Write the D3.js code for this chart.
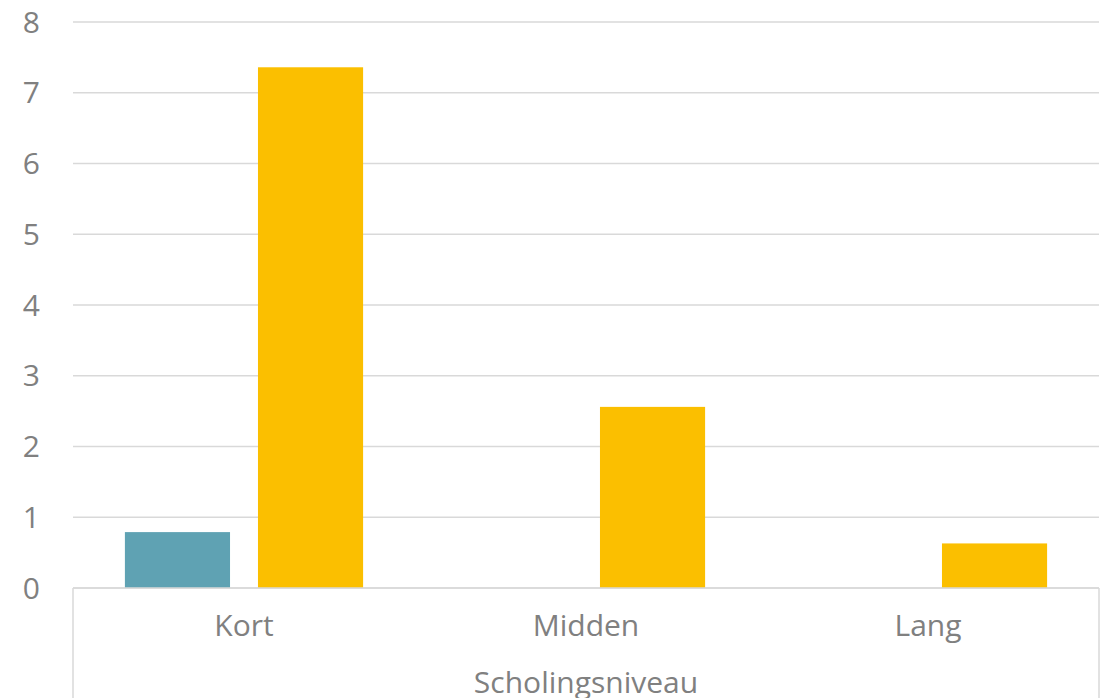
<!DOCTYPE html>
<html>
<head>
<meta charset="utf-8">
<script src="https://cdnjs.cloudflare.com/ajax/libs/d3/7.8.5/d3.min.js"></script>
<style>
body { margin: 0; background: #fff; }
text { font-family: "Open Sans", "Noto Sans", sans-serif; fill: #808080; }
</style>
</head>
<body>
<svg id="chart"></svg>
<script>
'use strict'

// data
const categories = ['Kort', 'Midden', 'Lang']
const series = ['reeks1', 'reeks2']
const reeks1 = [0.79, 0, 0]
const reeks2 = [7.36, 2.56, 0.63]
const yTicks = [0, 1, 2, 3, 4, 5, 6, 7, 8]
const axisTitle = 'Scholingsniveau'

const width = 1107, height = 698
const margins = {top: 22, right: 8, bottom: 110, left: 73}
const chartWidth = width - margins.left - margins.right
const chartHeight = height - margins.top - margins.bottom
const colors = {reeks1: '#5fa2b3', reeks2: '#fbbf00'}

const svg = d3.select('#chart')
	.attr('width', width)
	.attr('height', height)
const g = svg.append('g')
	.attr('transform', 'translate(' + margins.left + ',' + margins.top + ')')

const x0 = d3.scaleBand().domain(categories).range([0, chartWidth])
const x1 = d3.scaleBand().domain(series).range([0, x0.bandwidth()])
	.paddingInner(0.21).paddingOuter(0.39)
const y = d3.scaleLinear().domain([0, 8]).range([chartHeight, 0])

// gridlines
g.append('g').selectAll('line')
	.data(yTicks)
	.enter().append('line')
	.attr('x1', 0).attr('x2', chartWidth)
	.attr('y1', d => y(d)).attr('y2', d => y(d))
	.attr('stroke', '#d9d9d9').attr('stroke-width', 1.5)

// y labels
g.append('g').selectAll('text')
	.data(yTicks)
	.enter().append('text')
	.attr('x', -33).attr('y', d => y(d))
	.attr('dy', '0.35em')
	.attr('text-anchor', 'end')
	.style('font-size', '30px')
	.text(d => d)

// bars
const rows = categories.map((c, i) => ({cat: c, values: [
	{key: 'reeks1', v: reeks1[i]}, {key: 'reeks2', v: reeks2[i]}]}))
const groups = g.append('g').selectAll('g')
	.data(rows)
	.enter().append('g')
	.attr('transform', d => 'translate(' + x0(d.cat) + ',0)')
groups.selectAll('rect')
	.data(d => d.values.filter(e => e.v > 0))
	.enter().append('rect')
	.attr('x', d => x1(d.key))
	.attr('width', x1.bandwidth())
	.attr('y', d => y(d.v))
	.attr('height', d => chartHeight - y(d.v))
	.attr('fill', d => colors[d.key])

// category axis with outer frame lines
const xAxis = g.append('g').attr('transform', 'translate(0,' + chartHeight + ')')
xAxis.append('line')
	.attr('x1', 0).attr('x2', chartWidth)
	.attr('stroke', '#d9d9d9').attr('stroke-width', 1.5)
xAxis.selectAll('.edge')
	.data([0, chartWidth])
	.enter().append('line')
	.attr('class', 'edge')
	.attr('x1', d => d).attr('x2', d => d)
	.attr('y1', 0).attr('y2', margins.bottom)
	.attr('stroke', '#d9d9d9').attr('stroke-width', 1.5)
xAxis.selectAll('.cat')
	.data(categories)
	.enter().append('text')
	.attr('class', 'cat')
	.attr('x', d => x0(d) + x0.bandwidth() / 2)
	.attr('y', 48)
	.attr('text-anchor', 'middle')
	.style('font-size', '30px')
	.text(d => d)
xAxis.append('text')
	.attr('x', chartWidth / 2)
	.attr('y', 105)
	.attr('text-anchor', 'middle')
	.style('font-size', '30px')
	.text(axisTitle)
</script>
</body>
</html>
